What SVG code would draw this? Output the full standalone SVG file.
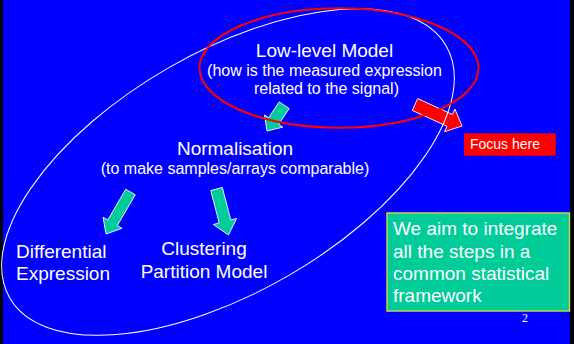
<svg xmlns="http://www.w3.org/2000/svg" width="574" height="344" viewBox="0 0 574 344">
<style>
text{font-family:"Liberation Sans",Arial,sans-serif;fill:#ffffff}
.t19{font-size:19px}
.t16{font-size:16px}
.mid{text-anchor:middle}
.garrow{fill:#00cc99;stroke:#ffffff;stroke-width:0.8}
.rarrow{fill:#ff0000;stroke:#ffffff;stroke-width:0.8}
</style>
<rect x="0" y="0" width="574" height="344" fill="#0000ff"/>
<rect x="0" y="0" width="3" height="344" fill="#000000"/>
<rect x="570" y="0" width="4" height="344" fill="#000000"/>

<g id="connectors">
  <path class="garrow" transform="translate(267,131) rotate(33.7)" d="M-6,-31 L6,-31 L6,-12 L11,-12 L0,0 L-11,-12 L-6,-12 Z"/>
  <path class="garrow" transform="translate(106,234) rotate(30.3)" d="M-5.5,-48.6 L5.5,-48.6 L5.5,-13 L11,-13 L0,0 L-11,-13 L-5.5,-13 Z"/>
  <path class="garrow" transform="translate(228.5,235) rotate(-14.6)" d="M-6,-47.5 L6,-47.5 L6,-14 L12,-14 L0,0 L-12,-14 L-6,-14 Z"/>
  <path class="rarrow" transform="translate(462,126) rotate(-65.4)" d="M-6.5,-51.7 L6.5,-51.7 L6.5,-13.5 L12.5,-13.5 L0,0 L-12.5,-13.5 L-6.5,-13.5 Z"/>
</g>

<g id="scope-ellipse">
  <ellipse cx="228" cy="172" rx="252" ry="120" transform="rotate(-30 228 172)" fill="none" stroke="#ffffff" stroke-width="1"/>
</g>

<g id="focus-ellipse">
  <ellipse cx="339" cy="68" rx="139.5" ry="59.7" fill="none" stroke="#ff0000" stroke-width="2"/>
</g>

<g id="low-level">
  <text class="t19 mid" x="324.5" y="57">Low-level Model</text>
  <text class="t16 mid" x="324.5" y="76">(how is the measured expression</text>
  <text class="t16 mid" x="326.5" y="94">related to the signal)</text>
</g>

<g id="normalisation">
  <text class="t19 mid" x="235" y="155">Normalisation</text>
  <text class="t16 mid" x="235" y="174">(to make samples/arrays comparable)</text>
</g>

<g id="differential">
  <text class="t19" x="16" y="257.7">Differential</text>
  <text class="t19" x="16" y="280">Expression</text>
</g>

<g id="clustering">
  <text class="t19 mid" x="204" y="255">Clustering</text>
  <text class="t19 mid" x="204" y="278">Partition Model</text>
</g>

<g id="focus">
  <rect x="464" y="133.3" width="91.7" height="22.4" fill="#ff0000"/>
  <text x="470" y="149" style="font-size:14px">Focus here</text>
</g>

<g id="aim">
  <rect x="387" y="213" width="182.5" height="98" fill="#00cc99" stroke="#c8d24a" stroke-width="1.5"/>
  <text class="t19" x="393" y="235">We aim to integrate</text>
  <text class="t19" x="393" y="257.5">all the steps in a</text>
  <text class="t19" x="393" y="280">common statistical</text>
  <text class="t19" x="393" y="302">framework</text>
</g>

<g id="page">
  <text x="522" y="322" style="font-family:'Liberation Serif','Times New Roman',serif;font-size:12px">2</text>
</g>
</svg>
